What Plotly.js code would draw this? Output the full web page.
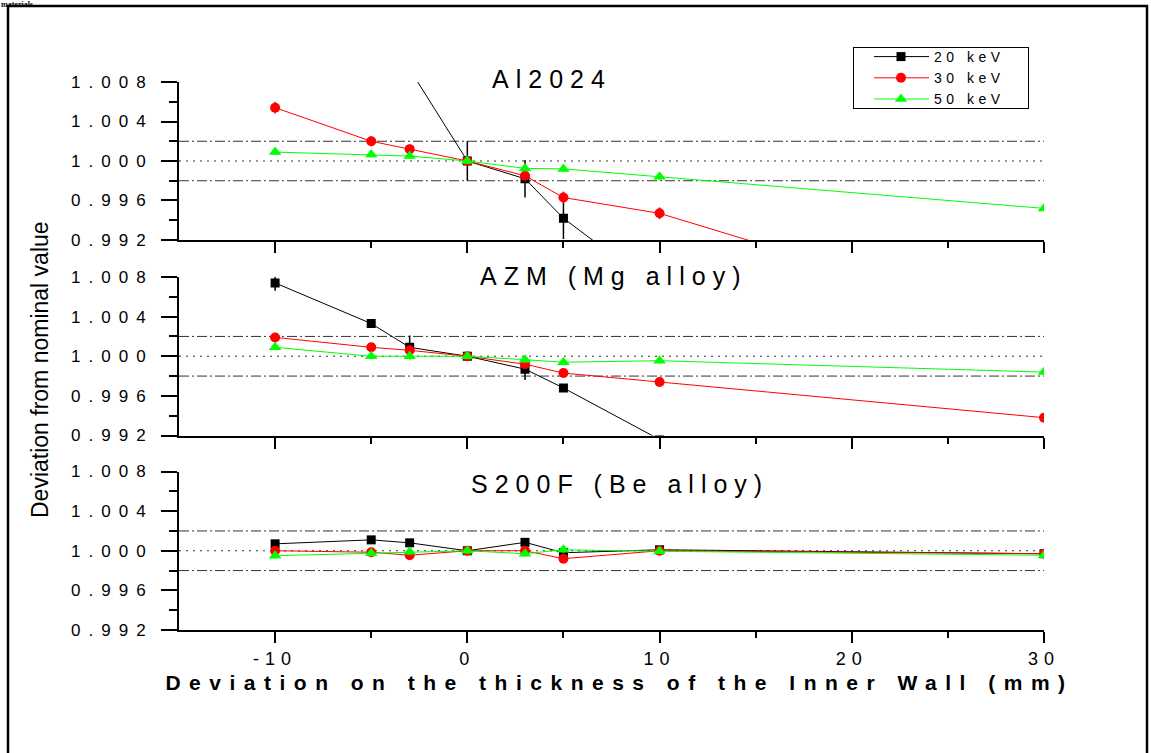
<!DOCTYPE html>
<html>
<head>
<meta charset="utf-8">
<script src="https://cdn.plot.ly/plotly-3.0.1.min.js"></script>
<style>
  html, body { margin: 0; padding: 0; background: #fff; }
  #chart { width: 1151px; height: 753px; }
  .ytick text, .y2tick text, .y3tick text { letter-spacing: 8px; }
  .xtick text { letter-spacing: 6px; }
  .xtitle { letter-spacing: 8.5px; transform: translate(8px, 0px); }
  .legendtext { letter-spacing: 4.5px; }
  .legend .legendlines path { d: path("M20,0h55"); }
  .legend .legendpoints path { transform: translate(47px, 0px); }
  .legend rect.bg { width: 175px; height: 61px; }
  .legend .scrollbox { transform: translate(0px, -7px); }
  g.annotation[data-index="0"] text,
  g.annotation[data-index="1"] text,
  g.annotation[data-index="2"] text { letter-spacing: 7px; }
</style>
</head>
<body>
<div id="chart"></div>
<script>
// ---------------- data ----------------
const thickness = [-10, -5, -3, 0, 3, 5, 10, 30];
const seriesNames = ['20 keV', '30 keV', '50 keV'];
const panelTitles = ['Al2024', 'AZM (Mg alloy)', 'S200F (Be alloy)'];
const yTickVals = [0.992, 0.996, 1.000, 1.004, 1.008];
const yTickText = ['0.992', '0.996', '1.000', '1.004', '1.008'];
const yMinorVals = [0.994, 0.998, 1.002, 1.006];
const xTickVals = [-10, 0, 10, 20, 30];
const xTickText = ['-10', '0', '10', '20', '30'];
const xMinorVals = [-5, 5, 15, 25];
const toleranceBand = [0.998, 1.002];
const nominal = 1.000;

// Al2024
const al_20 = [1.0310, 1.0155, 1.0092, 1.0000, 0.9982, 0.9942, 0.9869, 0.9600];
const al_20_err = [0.0008, 0.0008, 0.0008, 0.0020, 0.0019, 0.0021, 0.0020, 0.0020];
const al_30 = [1.0054, 1.0020, 1.0012, 1.0000, 0.9985, 0.9963, 0.9947, 0.9829];
const al_30_err = [0.0006, 0.0005, 0.0005, 0.0004, 0.0005, 0.0006, 0.0006, 0.0006];
const al_50 = [1.0009, 1.00065, 1.0005, 1.0000, 0.99925, 0.9992, 0.9984, 0.9952];
const al_50_err = [0.0003, 0.0003, 0.0003, 0.0003, 0.0003, 0.0003, 0.0003, 0.0003];

// AZM (Mg alloy)
const azm_20 = [1.0074, 1.0033, 1.0009, 1.0000, 0.9987, 0.9968, 0.9916, 0.9750];
const azm_20_err = [0.0008, 0.0004, 0.0012, 0.0003, 0.0011, 0.0004, 0.0004, 0.0004];
const azm_30 = [1.0019, 1.0009, 1.0006, 1.0000, 0.9992, 0.9983, 0.9974, 0.9938];
const azm_30_err = [0.0004, 0.0004, 0.0004, 0.0004, 0.0004, 0.0004, 0.0004, 0.0004];
const azm_50 = [1.0009, 1.0000, 1.0000, 1.0000, 0.99965, 0.9994, 0.99955, 0.9984];
const azm_50_err = [0.0003, 0.0003, 0.0003, 0.0003, 0.0003, 0.0003, 0.0003, 0.0003];

// S200F (Be alloy)
const s_20 = [1.0007, 1.0011, 1.0008, 1.0000, 1.00085, 0.9998, 1.0001, 0.9997];
const s_20_err = [0.0003, 0.0003, 0.0003, 0.0003, 0.0003, 0.0003, 0.0003, 0.0003];
const s_30 = [1.0000, 0.99985, 0.99955, 1.0000, 1.0000, 0.9992, 1.0000, 0.9997];
const s_30_err = [0.0003, 0.0003, 0.0003, 0.0003, 0.0003, 0.0003, 0.0003, 0.0003];
const s_50 = [0.9995, 0.99975, 0.9999, 1.0000, 0.9997, 1.0001, 0.99995, 0.99955];
const s_50_err = [0.0003, 0.0003, 0.0003, 0.0003, 0.0003, 0.0003, 0.0003, 0.0003];

// ---------------- styles ----------------
const colors = ['#000000', '#ff0000', '#00ff00'];
const symbols = ['square', 'circle', 'triangle-up'];
const msizes = [9, 10, 11];

const panels = [
  { xa: 'x3', ya: 'y',  data: [al_20, al_30, al_50], err: [al_20_err, al_30_err, al_50_err] },
  { xa: 'x2', ya: 'y2', data: [azm_20, azm_30, azm_50], err: [azm_20_err, azm_30_err, azm_50_err] },
  { xa: 'x',  ya: 'y3', data: [s_20, s_30, s_50], err: [s_20_err, s_30_err, s_50_err] }
];

const traces = [];
panels.forEach((p, pi) => {
  p.data.forEach((vals, si) => {
    traces.push({
      type: 'scatter', mode: 'lines+markers',
      x: thickness, y: vals,
      xaxis: p.xa, yaxis: p.ya,
      name: seriesNames[si], legendgroup: seriesNames[si],
      showlegend: pi === 0,
      line: { color: colors[si], width: 1 },
      marker: { color: colors[si], symbol: symbols[si], size: msizes[si] },
      error_y: { type: 'data', array: p.err[si], visible: true, color: colors[si], thickness: 1.5, width: 0 }
    });
  });
});

const FONT = 'Liberation Sans, Arial, sans-serif';

function yAxis(domain, anchor) {
  return {
    domain: domain, anchor: anchor, range: [0.992, 1.008],
    tickmode: 'array', tickvals: yTickVals, ticktext: yTickText,
    ticks: 'outside', ticklen: 16, tickwidth: 2, tickcolor: '#000',
    minor: { tickmode: 'array', tickvals: yMinorVals, ticks: 'outside', ticklen: 8, tickwidth: 2, tickcolor: '#000' },
    showline: true, linewidth: 2, linecolor: '#000',
    showgrid: false, zeroline: false,
    ticklabelstandoff: 4,
    tickfont: { family: FONT, size: 17, color: '#000' }
  };
}
function xAxis(anchor, labels) {
  return {
    anchor: anchor, range: [-15, 30], domain: [0, 1],
    tickmode: 'array', tickvals: xTickVals, ticktext: xTickText,
    ticks: 'outside', ticklen: 11, tickwidth: 2, tickcolor: '#000',
    minor: { tickmode: 'array', tickvals: xMinorVals, ticks: 'outside', ticklen: 6, tickwidth: 2, tickcolor: '#000' },
    showline: true, linewidth: 2, linecolor: '#000',
    showgrid: false, zeroline: false,
    showticklabels: labels,
    tickfont: { family: FONT, size: 18, color: '#000' }
  };
}

const shapes = [];
panels.forEach(p => {
  toleranceBand.forEach(v => shapes.push({
    type: 'line', xref: p.xa, yref: p.ya, x0: -15, x1: 30, y0: v, y1: v,
    line: { color: '#333', width: 1, dash: '10px,3px,2px,3px' }, layer: 'below'
  }));
  shapes.push({
    type: 'line', xref: p.xa, yref: p.ya, x0: -15, x1: 30, y0: nominal, y1: nominal,
    line: { color: '#333', width: 1, dash: '2px,5px' }, layer: 'below'
  });
});
// outer frame
shapes.push({
  type: 'rect', xref: 'paper', yref: 'paper',
  x0: (8 - 179) / 865, x1: (1147 - 179) / 865, y0: (630 - 770) / 548, y1: (630 - 6) / 548,
  line: { color: '#000', width: 2.5 }, fillcolor: 'rgba(0,0,0,0)'
});

const titlePos = [[552, 79], [613, 276], [620, 484]];
const annotations = panelTitles.map((t, i) => ({
  text: t, xref: 'paper', yref: 'paper',
  x: (titlePos[i][0] - 179) / 865, y: (630 - titlePos[i][1]) / 548,
  xanchor: 'center', yanchor: 'middle', showarrow: false,
  font: { family: FONT, size: 25, color: '#000' }
}));
annotations.push({
  text: 'Deviation from nominal value', xref: 'paper', yref: 'paper',
  x: (40 - 179) / 865, y: (630 - 370) / 548, textangle: -90,
  xanchor: 'center', yanchor: 'middle', showarrow: false,
  font: { family: FONT, size: 23, color: '#000' }
});
annotations.push({
  text: '<b>materials</b>', xref: 'paper', yref: 'paper',
  x: (0 - 179) / 865, y: (630 + 1) / 548,
  xanchor: 'left', yanchor: 'top', showarrow: false, borderpad: 0,
  font: { family: 'Liberation Serif, Times New Roman, serif', size: 8, color: '#000' }
});

const xa1 = xAxis('y3', true);
xa1.title = { text: '<b>Deviation on the thickness of the Inner Wall (mm)</b>', font: { family: FONT, size: 21, color: '#000' }, standoff: 8 };

const layout = {
  width: 1151, height: 753,
  margin: { l: 179, r: 107, t: 82, b: 123 },
  paper_bgcolor: '#fff', plot_bgcolor: 'rgba(0,0,0,0)',
  showlegend: true,
  legend: {
    x: (853 - 179) / 865, y: (630 - 47) / 548, xanchor: 'left', yanchor: 'top',
    bgcolor: '#fff', bordercolor: '#000', borderwidth: 1,
    font: { family: FONT, size: 14, color: '#000' },
    itemwidth: 70, tracegroupgap: 0
  },
  xaxis: xa1,
  xaxis2: xAxis('y2', false),
  xaxis3: xAxis('y', false),
  yaxis: yAxis([0.7117, 1], 'x3'),
  yaxis2: yAxis([0.3549, 0.6442], 'x2'),
  yaxis3: yAxis([0, 0.2892], 'x'),
  shapes: shapes,
  annotations: annotations
};

Plotly.newPlot('chart', traces, layout, { staticPlot: true, displayModeBar: false });
</script>
</body>
</html>
